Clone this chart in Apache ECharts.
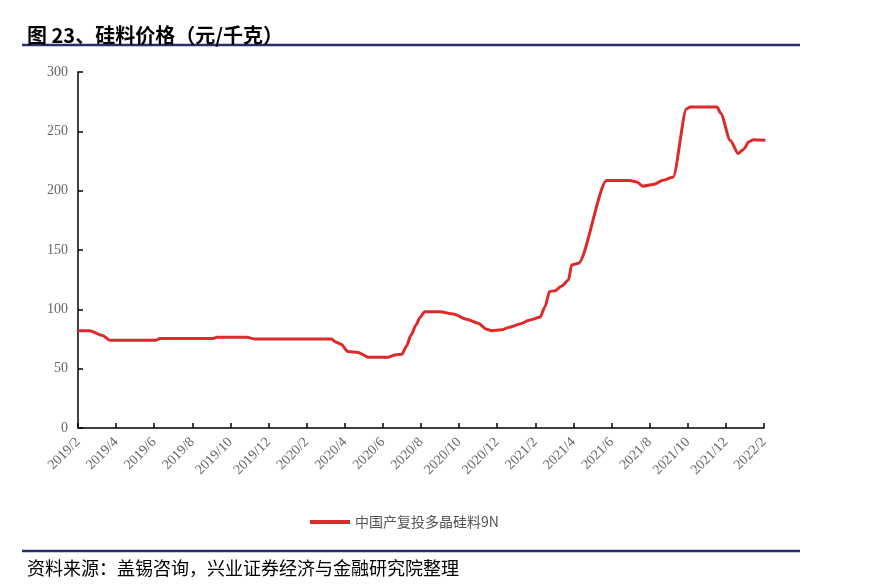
<!DOCTYPE html>
<html><head><meta charset="utf-8">
<script src="https://cdn.jsdelivr.net/npm/echarts@6/dist/echarts.min.js"></script>
<style>html,body{margin:0;padding:0;background:#fff}#c{width:878px;height:587px}</style>
</head><body><div id="c"></div>
<script>
const titleText = '图 23、硅料价格（元/千克）';
const sourceText = '资料来源：盖锡咨询，兴业证券经济与金融研究院整理';
const seriesName = '中国产复投多晶硅料9N';
const yTicks = [0, 50, 100, 150, 200, 250, 300];
const xTickLabels = ['2019/2','2019/4','2019/6','2019/8','2019/10','2019/12','2020/2','2020/4','2020/6','2020/8','2020/10','2020/12','2021/2','2021/4','2021/6','2021/8','2021/10','2021/12','2022/2'];
const dates = ['2019-02-01','2019-02-18','2019-03-10','2019-03-22','2019-06-04','2019-06-10','2019-09-04','2019-09-10','2019-10-27','2019-11-10',
  '2020-03-10','2020-03-18','2020-03-26','2020-04-06','2020-04-22','2020-05-08','2020-06-09','2020-06-20','2020-07-01','2020-07-08','2020-07-16','2020-07-24','2020-07-30','2020-08-07','2020-09-01','2020-09-22','2020-10-13','2020-11-01','2020-11-14','2020-11-22','2020-12-08','2020-12-21',
  '2021-01-07','2021-01-23','2021-02-08','2021-02-15','2021-02-22','2021-03-02','2021-03-13','2021-03-24','2021-03-29','2021-04-09','2021-05-24','2021-06-30','2021-07-11','2021-07-21','2021-08-07','2021-08-23','2021-09-08','2021-09-29','2021-10-05','2021-11-17','2021-11-23','2021-12-08','2021-12-21','2021-12-30','2022-01-07','2022-01-15','2022-02-03'];
const prices = [82,82,78,74,74,75.5,75.5,76.5,76.5,75,
  75,72.3,70.6,64.4,63.6,59.7,59.7,61.6,62.2,68.6,78.5,86.9,93,98,98,96,91.7,88.3,83.3,82,82.7,85,
  87.7,91,93.3,102,115,115.7,119.7,124.8,137.4,138.8,208.5,208.5,207.4,203.8,205.2,208.8,211.6,269,270.5,270.5,265,242.5,231.3,235,241,243,242.5];

function monthIndex(s){
  const [y,m,d] = s.split('-').map(Number);
  const dim = new Date(y, m, 0).getDate();
  return (y-2019)*12 + (m-2) + (d-1)/dim;
}
const data = dates.map((d,i)=>[monthIndex(d), prices[i]]);

const chart = echarts.init(document.getElementById('c'));
const serif = '"Liberation Serif", "Times New Roman", serif';
const cjk = '"Noto Sans CJK SC", sans-serif';
chart.setOption({
  animation:false,
  backgroundColor:'#fff',
  title:[
    {text:titleText, left:22, top:20, textStyle:{fontFamily:cjk, fontSize:20, fontWeight:'bold', color:'#000'}},
    {text:sourceText, left:22, top:554, textStyle:{fontFamily:cjk, fontSize:18, fontWeight:'normal', color:'#000'}}
  ],
  graphic:[
    {type:'line', shape:{x1:22,y1:45,x2:800,y2:45}, style:{stroke:'#2B2E6E', lineWidth:2.5}},
    {type:'line', shape:{x1:22,y1:551,x2:800,y2:551}, style:{stroke:'#2B2E6E', lineWidth:2.5}}
  ],
  legend:{
    data:[seriesName], left:305, top:510, itemWidth:40, itemHeight:4, itemGap:8,
    icon:'rect',
    textStyle:{fontFamily:cjk, fontSize:14, color:'#555'}
  },
  grid:{left:78, right:114, top:72, bottom:159},
  xAxis:{
    type:'value', min:0, max:36, interval:2,
    axisLine:{lineStyle:{color:'#000', width:1.5}},
    axisTick:{inside:true, length:5, lineStyle:{color:'#000', width:1.5}},
    splitLine:{show:false},
    axisLabel:{rotate:45, margin:12, fontFamily:serif, fontSize:14, color:'#666',
      formatter:(v)=>xTickLabels[Math.round(v/2)] || ''}
  },
  yAxis:{
    type:'value', min:yTicks[0], max:yTicks[yTicks.length-1], interval:50,
    axisLine:{show:true, lineStyle:{color:'#000', width:1.5}},
    axisTick:{show:true, inside:true, length:5, lineStyle:{color:'#000', width:1.5}},
    splitLine:{show:false},
    axisLabel:{margin:10, fontFamily:serif, fontSize:14, color:'#666'}
  },
  series:[{
    name:seriesName, type:'line', data:data, showSymbol:false, symbol:'none',
    smooth:0.25, smoothMonotone:'x',
    lineStyle:{color:'#DC2A2A', width:3}, itemStyle:{color:'#DC2A2A'}
  }]
});
</script></body></html>
